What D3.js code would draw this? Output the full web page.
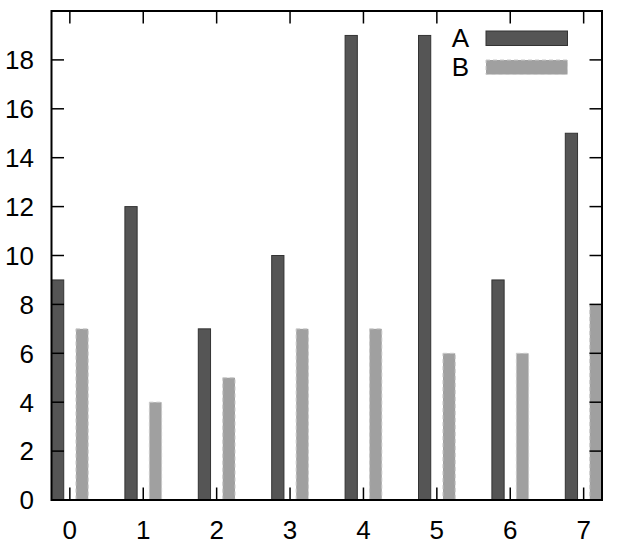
<!DOCTYPE html>
<html><head><meta charset="utf-8">
<script src="https://cdn.jsdelivr.net/npm/d3@7"></script>
<style>body{margin:0;background:#fff;}svg{display:block;font-family:"Liberation Sans",Arial,sans-serif;}</style>
</head><body><svg id="c" width="620" height="559"></svg>
<script>
const categories = [0,1,2,3,4,5,6,7];
const seriesA = [9,12,7,10,19,19,9,15];
const seriesB = [7,4,5,7,7,6,6,8];
const yTicks = [0,2,4,6,8,10,12,14,16,18];
const seriesNames = ["A","B"];

const svg = d3.select("#c");
const L = 51.5, R = 602, T = 11, B = 500;
const x = d3.scaleLinear().domain([-0.25, 7.25]).range([L, R]);
const y = d3.scaleLinear().domain([0, 20]).range([B, T]);
const fs = 26;

// bars
const g = svg.append("g");
g.selectAll(".a").data(categories).enter().append("rect")
  .attr("x", d => x(d - 0.25)).attr("width", d => x(d - 0.0833) - x(d - 0.25))
  .attr("y", (d,i) => y(seriesA[i])).attr("height", (d,i) => y(0) - y(seriesA[i]))
  .attr("fill", "#555555").attr("stroke", "#333333").attr("stroke-width", 1);
g.selectAll(".b").data(categories).enter().append("rect")
  .attr("x", d => x(d + 0.0833)).attr("width", d => x(d + 0.25) - x(d + 0.0833))
  .attr("y", (d,i) => y(seriesB[i])).attr("height", (d,i) => y(0) - y(seriesB[i]))
  .attr("fill", "#a0a0a0").attr("stroke", "#c8c8c8").attr("stroke-width", 1).attr("stroke-dasharray", "4,3");

// axes ticks (inward, mirrored)
const tl = 12.5;
const axes = svg.append("g").attr("stroke", "#000").attr("stroke-width", 1.5);
yTicks.forEach(t => {
  axes.append("line").attr("x1", L).attr("x2", L + tl).attr("y1", y(t)).attr("y2", y(t));
  axes.append("line").attr("x1", R).attr("x2", R - tl).attr("y1", y(t)).attr("y2", y(t));
});
categories.forEach(c => {
  axes.append("line").attr("x1", x(c)).attr("x2", x(c)).attr("y1", B).attr("y2", B - tl);
  axes.append("line").attr("x1", x(c)).attr("x2", x(c)).attr("y1", T).attr("y2", T + tl);
});
svg.append("rect").attr("x", L).attr("y", T).attr("width", R - L).attr("height", B - T)
  .attr("fill", "none").attr("stroke", "#000").attr("stroke-width", 2);

// labels
svg.selectAll(".yl").data(yTicks).enter().append("text")
  .attr("x", 34).attr("y", d => y(d)).attr("dy", "0.36em").attr("text-anchor", "end")
  .attr("font-size", fs).text(d => d);
svg.selectAll(".xl").data(categories).enter().append("text")
  .attr("x", d => x(d)).attr("y", 539).attr("text-anchor", "middle")
  .attr("font-size", fs).text(d => d);

// legend
const lg = svg.append("g");
const ly = [38, 67];
lg.selectAll("text").data(seriesNames).enter().append("text")
  .attr("x", 469).attr("y", (d,i) => ly[i]).attr("dy", "0.36em").attr("text-anchor", "end")
  .attr("font-size", fs).text(d => d);
lg.append("rect").attr("x", 486).attr("y", 31).attr("width", 81.5).attr("height", 14.5)
  .attr("fill", "#555555").attr("stroke", "#333333").attr("stroke-width", 1);
lg.append("rect").attr("x", 486).attr("y", 60).attr("width", 81.5).attr("height", 14.5)
  .attr("fill", "#a0a0a0").attr("stroke", "#c8c8c8").attr("stroke-width", 1).attr("stroke-dasharray", "4,3");
</script></body></html>
